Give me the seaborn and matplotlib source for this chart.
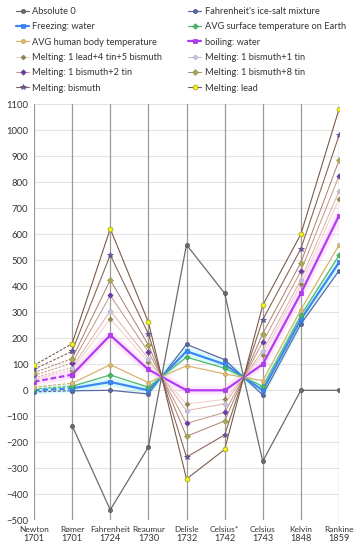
import numpy as np
import pandas as pd
import matplotlib
matplotlib.use("Agg")
import matplotlib.pyplot as plt
from matplotlib.lines import Line2D
import seaborn as sns

scales = ["Newton", "Rømer", "Fahrenheit", "Reaumur", "Delisle", "Celsius*", "Celsius", "Kelvin", "Rankine"]
years = ["1701", "1701", "1724", "1730", "1732", "1742", "1743", "1848", "1859"]

series_names = [
    "Absolute 0", "Fahrenheit's ice-salt mixture", "Freezing: water",
    "AVG surface temperature on Earth", "AVG human body temperature", "boiling: water",
    "Melting: 1 lead+4 tin+5 bismuth", "Melting: 1 bismuth+1 tin",
    "Melting: 1 bismuth+2 tin", "Melting: 1 bismuth+8 tin",
    "Melting: bismuth", "Melting: lead",
]

absolute_0   = [np.nan, -135.9, -459.7, -218.5, 559.7, 373.2, -273.2, 0.0, 0.0]
ice_salt     = [-6, -1.8, 0.0, -14.2, 176.7, 117.8, -17.8, 255.4, 459.7]
freezing     = [0, 7.5, 32.0, 0.0, 150.0, 100.0, 0.0, 273.2, 491.7]
earth_avg    = [5, 15.4, 59.0, 12.0, 127.5, 85.0, 15.0, 288.2, 518.7]
body_avg     = [12, 26.9, 98.6, 29.6, 94.5, 63.0, 37.0, 310.2, 558.3]
boiling      = [33, 60.0, 212.0, 80.0, 0.0, 0.0, 100.0, 373.2, 671.7]
lead4tin5bi  = [42, 78.4, 275.0, 108.0, -52.5, -35.0, 135.0, 408.2, 734.7]
bi1tin1      = [48, 87.3, 305.6, 121.6, -78.0, -52.0, 152.0, 425.2, 765.3]
bi1tin2      = [57, 104.6, 365.0, 148.0, -127.5, -85.0, 185.0, 458.2, 824.7]
bi1tin8      = [68, 122.0, 424.4, 174.4, -177.0, -118.0, 218.0, 491.2, 884.1]
bismuth      = [81, 150.0, 520.5, 217.1, -257.1, -171.4, 271.4, 544.6, 980.2]
lead         = [96, 179.4, 621.5, 262.0, -341.3, -227.5, 327.5, 600.7, 1081.2]

values = [absolute_0, ice_salt, freezing, earth_avg, body_avg, boiling,
          lead4tin5bi, bi1tin1, bi1tin2, bi1tin8, bismuth, lead]

# style: line color, marker, marker face, marker edge, line width, marker size
styles = [
    ("#6b6b6b", "o", "#6b6b6b", "#555555", 0.9, 3.0),
    ("#5b6aa0", "o", "#5b6aa0", "#4a5890", 0.9, 3.0),
    ("#3d86f5", "s", "#3d86f5", "#2f74e0", 1.6, 3.0),
    ("#4db86a", "D", "#4db86a", "#3aa058", 0.9, 2.8),
    ("#d6b36e", "o", "#d9b878", "#c8a460", 0.9, 3.0),
    ("#b23cf2", "s", "#b23cf2", "#a030e0", 1.6, 3.0),
    ("#f2cccc", "D", "#8e8650", "#8e8650", 0.7, 2.5),
    ("#dcb0a4", "D", "#c4c4dc", "#b0b0cc", 0.7, 2.6),
    ("#c49484", "D", "#6a3aa8", "#6a3aa8", 0.7, 2.7),
    ("#a87e6c", "D", "#a8a858", "#98984a", 0.7, 3.0),
    ("#8a6656", "*", "#6a5c9c", "#5a4c8c", 0.8, 4.2),
    ("#7a5a4a", "o", "#f4f41c", "#9c9c20", 0.8, 3.5),
]
glows = {2: "#55f0f0", 5: "#ff99f0"}

rows = []
for name, vals in zip(series_names, values):
    for i, v in enumerate(vals):
        rows.append({"series": name, "pos": i, "value": v})
df = pd.DataFrame(rows)

sns.set_theme(style="white")
plt.rcParams["font.family"] = ["Lato", "DejaVu Sans"]

fig = plt.figure(figsize=(3.58, 5.5), dpi=100)
ax = fig.add_axes([34 / 358, (550 - 520.3) / 550, (339 - 34) / 358, (520.3 - 104.3) / 550])

ax.set_xlim(0, len(scales) - 1)
ax.set_ylim(-500, 1100)
ax.set_yticks(np.arange(-500, 1101, 100))
ax.yaxis.grid(True, color="#e3e3e3", lw=0.8)
for i in range(len(scales)):
    ax.axvline(i, color="#9a9a9a", lw=0.9, zorder=1)
for s in ax.spines.values():
    s.set_visible(False)

for k, name in enumerate(series_names):
    color, mk, mfc, mec, lw, ms = styles[k]
    d = df[df["series"] == name]
    solid = d[d["pos"] >= 1]
    dashed = d[d["pos"] <= 1].dropna()
    if k in glows:
        sns.lineplot(data=solid, x="pos", y="value", ax=ax, color=glows[k], lw=6,
                     alpha=0.22, estimator=None, legend=False, zorder=2)
        if len(dashed) == 2:
            sns.lineplot(data=dashed, x="pos", y="value", ax=ax, color=glows[k], lw=6,
                         alpha=0.22, estimator=None, legend=False, zorder=2)
    sns.lineplot(data=solid, x="pos", y="value", ax=ax, color=color, lw=lw,
                 marker=mk, markersize=ms, markerfacecolor=mfc, markeredgecolor=mec,
                 markeredgewidth=0.5, estimator=None, legend=False, zorder=3 + k * 0.01)
    if len(dashed) == 2:
        sns.lineplot(data=dashed, x="pos", y="value", ax=ax, color=color, lw=lw,
                     linestyle=(0, (2.5, 1.3)), marker=mk, markersize=ms, markerfacecolor=mfc,
                     markeredgecolor=mec, markeredgewidth=0.5, estimator=None,
                     legend=False, zorder=3 + k * 0.01)

ax.set_xlabel("")
ax.set_ylabel("")
ax.set_xticks(range(len(scales)))
ax.set_xticklabels([""] * len(scales))
ax.tick_params(axis="x", length=0)
ax.tick_params(axis="y", length=0, pad=4, labelsize=6.8, labelcolor="#333333")

for i, (nm, yr) in enumerate(zip(scales, years)):
    ax.annotate(nm, xy=(i, 0), xycoords=("data", "axes fraction"), xytext=(0, -6.3),
                textcoords="offset points", ha="center", va="center", fontsize=6.0,
                color="#333333", family=["Liberation Sans Narrow", "Lato", "DejaVu Sans"])
    ax.annotate(yr, xy=(i, 0), xycoords=("data", "axes fraction"), xytext=(0, -12.8),
                textcoords="offset points", ha="center", va="center", fontsize=6.6,
                color="#333333")

handles = []
for k, name in enumerate(series_names):
    color, mk, mfc, mec, lw, ms = styles[k]
    handles.append(Line2D([0], [0], color=color, lw=lw, marker=mk, markersize=ms,
                          markerfacecolor=mfc, markeredgecolor=mec, markeredgewidth=0.5))
order = list(range(0, 12, 2)) + list(range(1, 12, 2))
fig.legend([handles[i] for i in order], [series_names[i] for i in order],
           loc="upper left", bbox_to_anchor=(16 / 358, 1 - 7 / 550), ncol=2,
           frameon=False, fontsize=6.7, handlelength=1.4, handletextpad=0.35,
           columnspacing=2.8, labelspacing=0.68, borderaxespad=0, borderpad=0,
           labelcolor="#333333")

fig.savefig("out.png", dpi=100)
